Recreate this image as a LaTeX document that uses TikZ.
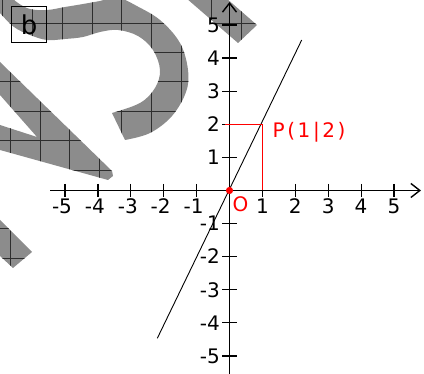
\documentclass[tikz,border=0pt]{standalone}
\usepackage{fontspec}
\setmainfont{DejaVu Sans}
\usetikzlibrary{arrows.meta}
\definecolor{wmgray}{RGB}{140,140,140}
\definecolor{wmline}{RGB}{45,45,45}
\definecolor{pred}{RGB}{255,0,0}
\tikzset{
  axisline/.style={line width=1.4pt, -{Straight Barb[length=9pt,width=14pt]}},
  tickmark/.style={line width=1.2pt},
  ticklabel/.style={font=\fontsize{20}{24}\selectfont, inner sep=0pt, text height=14.6pt, text depth=0pt},
  redline/.style={pred, line width=1.3pt},
  wmgrid/.style={wmline, line width=0.8pt},
  graphline/.style={line width=0.9pt},
}
\begin{document}
\begin{tikzpicture}[x=1pt,y=-1pt]
\useasboundingbox (0,0) rectangle (424,374);
% watermark fragments: shapes A and D
\begin{scope}
  \clip (-2,-4) -- plot[smooth, tension=0.6] coordinates {(0,13) (14,27) (30,35) (47,40) (65,39) (83,37) (100,32) (118,30) (138,36) (153,50) (160,70) (155,88) (140,103) (112,113)}
    -- plot[smooth, tension=0.6] coordinates {(125,140) (150,133) (172,116) (186,92) (188,70) (180,43) (160,20) (135,5) (117,-4)}
    -- plot[smooth, tension=0.6] coordinates {(100,1) (83,4) (65,7) (47,10) (30,9) (18,3) (10,-4)} -- cycle
    (186,-2) -- (226,-2) -- (257,25) -- (238,43) -- cycle;
  \fill[wmgray] (0,0) rectangle (424,374);
  \foreach \k in {0,...,9} {
    \draw[wmgrid] (0,23+29.4*\k) -- (424,23+29.4*\k);
    \draw[wmgrid] (2.5+29.8*\k,0) -- (2.5+29.8*\k,374);
  }
\end{scope}
% watermark fragments: shapes B and C
\begin{scope}
  \clip (0,62) -- (112,171) -- (113,176) -- (108,180) -- (0,150) -- (0,125) -- (37,137) -- (0,95) -- cycle
    (0,220) -- (32,252) -- (13,268) -- (0,256) -- cycle;
  \fill[wmgray] (0,0) rectangle (424,374);
  \foreach \k in {0,...,9} {
    \draw[wmgrid] (0,23+29.4*\k) -- (424,23+29.4*\k);
    \draw[wmgrid] (10.5+29.5*\k,0) -- (10.5+29.5*\k,374);
  }
\end{scope}
% label box
\node[draw, line width=1pt, minimum width=35pt, minimum height=36pt, inner sep=0pt,
      font=\fontsize{26}{30}\selectfont] (blabel) at (29.2,24.7) {b};
% axes
\coordinate (O) at (229.5,190.5);
\coordinate (xs) at (50,190.5);
\coordinate (xe) at (421,190.5);
\coordinate (ys) at (229.5,376);
\coordinate (ye) at (229.5,2);
\draw[axisline] (xs) -- (xe);
\draw[axisline] (ys) -- (ye);
\foreach \k in {-5,-4,-3,-2,-1,1,2,3,4,5} {
  \pgfmathsetmacro\xx{229.5+32.9*\k}
  \pgfmathsetmacro\sh{\k<0 ? -3 : 0}
  \draw[tickmark] (\xx,184) -- (\xx,197);
  \node[ticklabel, anchor=north] (xl\k) at (\xx+\sh,199) {\k};
  \pgfmathsetmacro\yy{190.5-33.1*\k}
  \draw[tickmark] (222,\yy) -- (237,\yy);
  \node[ticklabel, anchor=east] (yl\k) at (220,\yy) {\k};
}
% graph line
\coordinate (L1) at (157.3,338.3);
\coordinate (L2) at (301.7,40);
\draw[graphline] (L1) -- (L2);
% point P
\coordinate (P) at (262.4,124.3);
\coordinate (Py) at (225,124.3);
\coordinate (Px) at (262.4,190.5);
\draw[redline] (Py) -- (P) -- (Px);
\fill[pred] (O) circle (3.6);
\node[pred, inner sep=0pt, anchor=base west, font=\fontsize{20}{24}\selectfont] (Plabel) at (272.5,138)
  {\addfontfeatures{LetterSpace=13}P(1|2)};
\node[pred, inner sep=0pt, font=\fontsize{20}{24}\selectfont] (Olabel) at (240.5,204.5) {O};
\end{tikzpicture}
\end{document}
